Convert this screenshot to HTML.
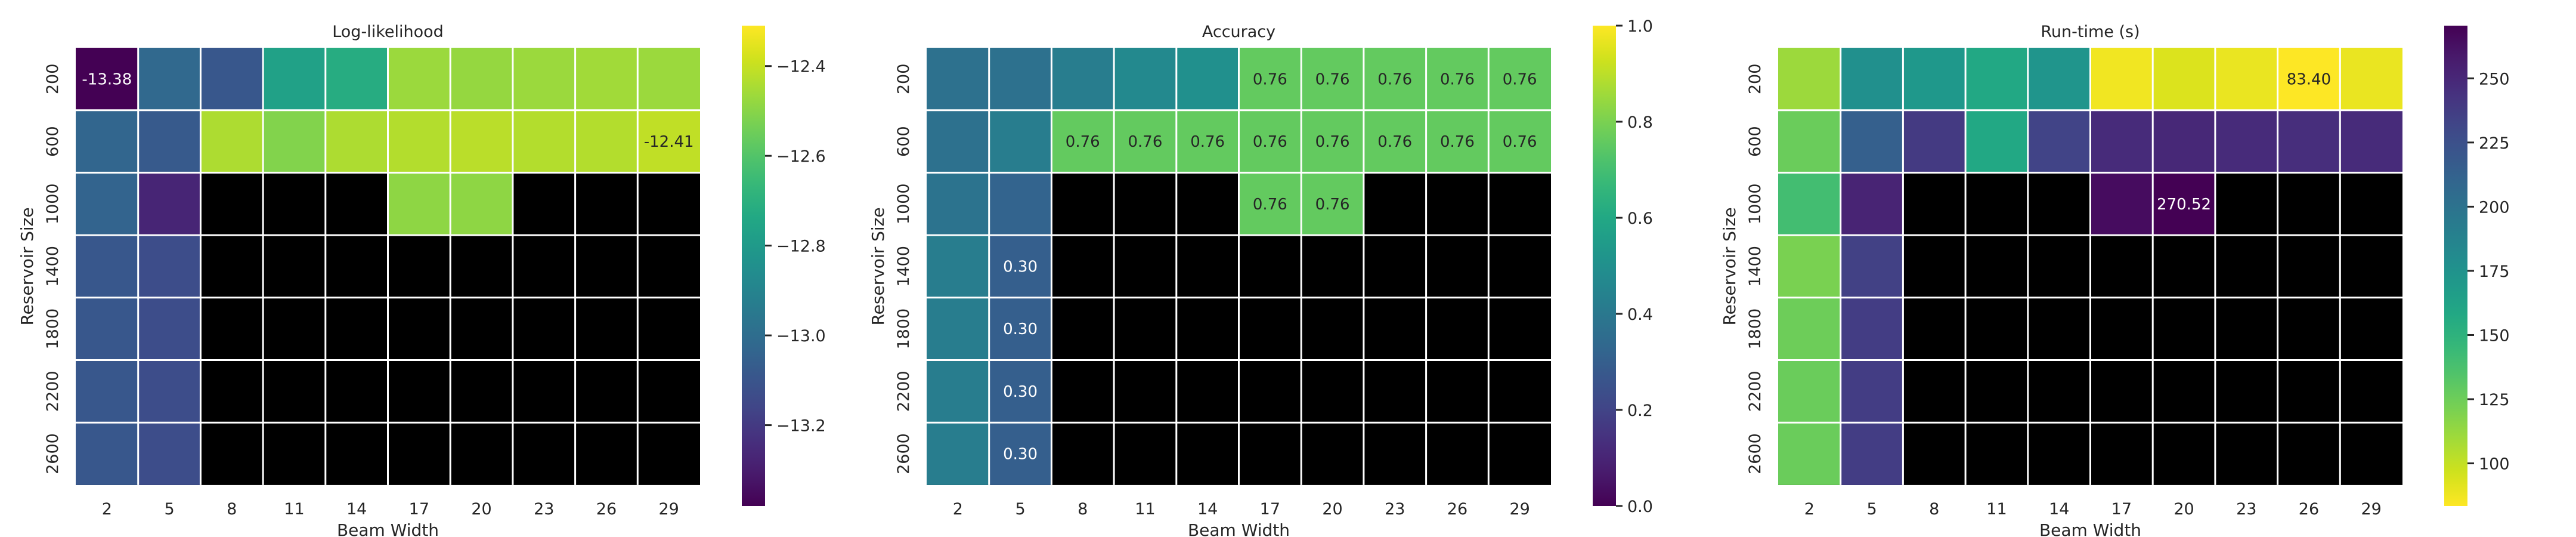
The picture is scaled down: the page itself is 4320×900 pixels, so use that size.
<!DOCTYPE html>
<html><head><meta charset="utf-8">
<style>
html,body{margin:0;padding:0;background:#fff;}
svg{display:block;font-family:"DejaVu Sans","Liberation Sans",sans-serif;}
</style></head>
<body>
<svg id="chart" width="4320" height="900" viewBox="0 0 4320 900" xmlns="http://www.w3.org/2000/svg"></svg>
<script>
const beamWidths = [2,5,8,11,14,17,20,23,26,29];
const reservoirSizes = [200,600,1000,1400,1800,2200,2600];
const N = null;
const logLikValues = [
 [-13.38,-13.02,-13.09,-12.77,-12.72,-12.47,-12.48,-12.47,-12.46,-12.47],
 [-13.03,-13.08,-12.44,-12.51,-12.44,-12.43,-12.42,-12.43,-12.43,-12.41],
 [-13.04,-13.27,N,N,N,-12.49,-12.49,N,N,N],
 [-13.09,-13.13,N,N,N,N,N,N,N,N],
 [-13.09,-13.13,N,N,N,N,N,N,N,N],
 [-13.09,-13.13,N,N,N,N,N,N,N,N],
 [-13.09,-13.13,N,N,N,N,N,N,N,N]
];
const accuracyValues = [
 [0.37,0.37,0.42,0.47,0.50,0.76,0.76,0.76,0.76,0.76],
 [0.37,0.42,0.76,0.76,0.76,0.76,0.76,0.76,0.76,0.76],
 [0.38,0.32,N,N,N,0.76,0.76,N,N,N],
 [0.42,0.30,N,N,N,N,N,N,N,N],
 [0.42,0.30,N,N,N,N,N,N,N,N],
 [0.42,0.30,N,N,N,N,N,N,N,N],
 [0.42,0.30,N,N,N,N,N,N,N,N]
];
const runtimeValues = [
 [111,177,171,158,173,87,93,89,83.40,89],
 [126,214,239,158,233,248,250,248,246,248],
 [140,252,N,N,N,265,270.52,N,N,N],
 [121,235,N,N,N,N,N,N,N,N],
 [125,237,N,N,N,N,N,N,N,N],
 [126,237,N,N,N,N,N,N,N,N],
 [126,237,N,N,N,N,N,N,N,N]
];
const logLikTicks = [-12.4,-12.6,-12.8,-13.0,-13.2];
const accuracyTicks = [0.0,0.2,0.4,0.6,0.8,1.0];
const runtimeTicks = [100,125,150,175,200,225,250];

const VIR = ["#440154","#481a6c","#472f7d","#414487","#39568c","#31688e","#2a788e","#23888e","#1f988b","#22a884","#35b779","#54c568","#7ad151","#a5db36","#d2e21b","#fde725"];
function hex2rgb(h){return [parseInt(h.slice(1,3),16),parseInt(h.slice(3,5),16),parseInt(h.slice(5,7),16)];}
function viridis(t){
  t=Math.max(0,Math.min(1,t));
  const p=t*(VIR.length-1), i=Math.min(Math.floor(p),VIR.length-2), f=p-i;
  const a=hex2rgb(VIR[i]), b=hex2rgb(VIR[i+1]);
  return "rgb("+a.map((v,k)=>Math.round(v+(b[k]-v)*f)).join(",")+")";
}
const svg=document.getElementById("chart");
const NS="http://www.w3.org/2000/svg";
function el(tag,attrs,parent){const e=document.createElementNS(NS,tag);for(const k in attrs)e.setAttribute(k,attrs[k]);(parent||svg).appendChild(e);return e;}
const defs=el("defs",{});

const TOP=80, CELL=104.7, CB_TOP=43, CB_BOT=848;
function panel(cfg){
  const g=el("g",{});
  
  
  const L=cfg.left, W=CELL*10, H=CELL*7;
  const bg=el("rect",{x:L,y:TOP,width:W,height:H,fill:"#000"},g);
  
  
  const vals=cfg.values; const flat=vals.flat().filter(v=>v!==null);
  const mn=Math.min(...flat), mx=Math.max(...flat);
  const norm=v=>{let t=(v-cfg.vmin)/(cfg.vmax-cfg.vmin);return cfg.reverse?1-t:t;};
  const xPos=i=>L+i*CELL, yPos=j=>TOP+j*CELL;
  vals.forEach((row,j)=>row.forEach((v,i)=>{
    if(v===null)return;
    const t=norm(v);
    const r=el("rect",{x:xPos(i),y:yPos(j),width:CELL,height:CELL,fill:viridis(t)},g);
    
    
    if(v===mn||v===mx){
      const tx=el("text",{x:xPos(i)+CELL/2,y:yPos(j)+CELL/2+9,"text-anchor":"middle","font-size":26,fill:t<0.5?"#fff":"#262626"},g);
      tx.textContent=v.toFixed(2);
      
      
    }
  }));
  for(let i=1;i<10;i++){const ln=el("line",{x1:xPos(i),x2:xPos(i),y1:TOP,y2:TOP+H,stroke:"#fff","stroke-width":3},g);
    }
  for(let j=1;j<7;j++){const ln=el("line",{x1:L,x2:L+W,y1:yPos(j),y2:yPos(j),stroke:"#fff","stroke-width":3},g);
    }
  const ti=el("text",{x:L+W/2,y:62,"text-anchor":"middle","font-size":27,fill:"#262626"},g);
  ti.textContent=cfg.title;
  
  
  beamWidths.forEach((b,i)=>{
    const t=el("text",{x:xPos(i)+CELL/2,y:862,"text-anchor":"middle","font-size":27,fill:"#262626"},g);
    t.textContent=b;
    
    
  });
  const xl=el("text",{x:L+W/2,y:898,"text-anchor":"middle","font-size":28,fill:"#262626"},g);
  xl.textContent="Beam Width";
  
  
  reservoirSizes.forEach((s,j)=>{
    const cx=L-30, cy=yPos(j)+CELL/2;
    const t=el("text",{x:cx,y:cy,"text-anchor":"middle","font-size":27,fill:"#262626",transform:`rotate(-90 ${cx} ${cy})`},g);
    t.textContent=s;
    
    
  });
  const yx=L-72, yy=TOP+H/2;
  const yl=el("text",{x:yx,y:yy,"text-anchor":"middle","font-size":28,fill:"#262626",transform:`rotate(-90 ${yx} ${yy})`},g);
  yl.textContent="Reservoir Size";
  
  
  const gid="grad-"+cfg.name;
  const lg=el("linearGradient",{id:gid,x1:0,y1:1,x2:0,y2:0},defs);
  for(let k=0;k<=40;k++){const f=k/40;el("stop",{offset:f,"stop-color":viridis(cfg.reverse?1-f:f)},lg);}
  const cb=el("rect",{x:cfg.cbx,y:CB_TOP,width:39,height:CB_BOT-CB_TOP,fill:`url(#${gid})`},g);
  
  
  const cy=v=>CB_BOT-(v-cfg.vmin)/(cfg.vmax-cfg.vmin)*(CB_BOT-CB_TOP);
  cfg.ticks.forEach(v=>{
    const y=cy(v);
    const tk=el("line",{x1:cfg.cbx+39,x2:cfg.cbx+50,y1:y,y2:y,stroke:"#262626","stroke-width":3},g);
    
    
    const t=el("text",{x:cfg.cbx+58,y:y+10,"font-size":27,fill:"#262626"},g);
    t.textContent=(v<0?"\u2212":"")+Math.abs(v).toFixed(cfg.dec);
    
    
  });
}
panel({name:"log-likelihood",title:"Log-likelihood",left:127,cbx:1244,values:logLikValues,vmin:-13.38,vmax:-12.31,ticks:logLikTicks,dec:1,reverse:false});
panel({name:"accuracy",title:"Accuracy",left:1554,cbx:2671,values:accuracyValues,vmin:0,vmax:1,ticks:accuracyTicks,dec:1,reverse:false});
panel({name:"runtime",title:"Run-time (s)",left:2982,cbx:4099,values:runtimeValues,vmin:83.4,vmax:270.52,ticks:runtimeTicks,dec:0,reverse:true});
</script>
</body></html>
